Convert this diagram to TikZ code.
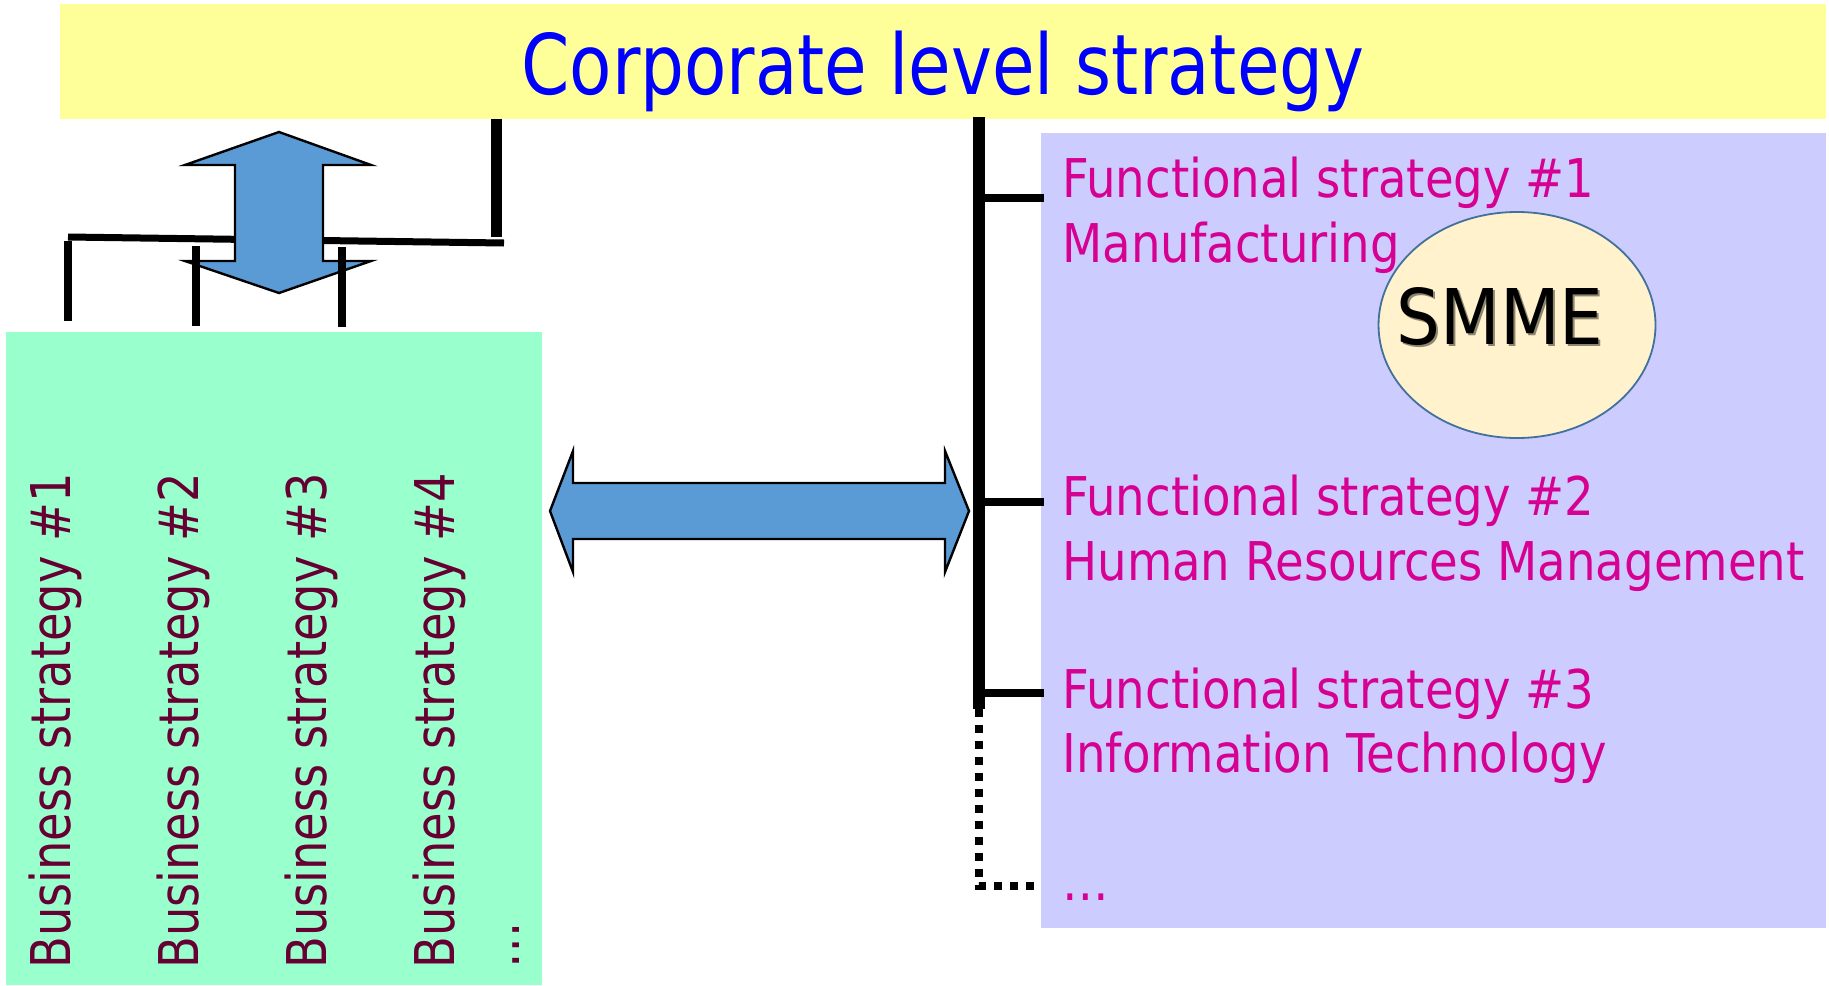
\documentclass[tikz,border=0pt]{standalone}
\usepackage{fontspec}
\setmainfont{DejaVu Sans Condensed}
\newfontfamily\titlefont[FakeStretch=0.92]{DejaVu Sans Condensed}
\newfontfamily\busfont[FakeStretch=0.94]{DejaVu Sans Condensed}
\newfontfamily\funcfont[FakeStretch=0.97]{DejaVu Sans Condensed}
\usepackage{tikz}
\usetikzlibrary{shapes.geometric}

\definecolor{corpyellow}{HTML}{FFFF99}
\definecolor{corpblue}{HTML}{0000FF}
\definecolor{busgreen}{HTML}{99FFCC}
\definecolor{busred}{HTML}{660033}
\definecolor{funcblue}{HTML}{CCCCFF}
\definecolor{funcpink}{RGB}{214,0,147}
\definecolor{arrowblue}{HTML}{5B9BD5}
\definecolor{smmefill}{HTML}{FFF2CC}
\definecolor{smmeline}{HTML}{41719C}

\begin{document}
\begin{tikzpicture}[x=0.5pt, y=-0.5pt,
  bus/.style={rotate=90, anchor=base west, inner sep=0pt, text=busred, font=\busfont\fontsize{27.4}{32}\selectfont},
  func/.style={anchor=base west, inner sep=0pt, text=funcpink, font=\funcfont\fontsize{26.7}{32}\selectfont},
  blockarrow/.style={fill=arrowblue, draw=black, line width=1.2pt, line join=miter}]
\useasboundingbox (0,0) rectangle (1829,985);

% boxes
\fill[corpyellow] (60,4) rectangle (1826,119);
\fill[busgreen] (6,332) rectangle (542,985);
\fill[funcblue] (1041,133) rectangle (1826,928);

\node[anchor=base, inner sep=0pt, text=corpblue, font=\titlefont\fontsize{41.8}{48}\selectfont] (corp) at (943,94) {Corporate level strategy};

% left tree
\draw[line width=5.5pt] (496,119) -- (496,237);
\draw[line width=3.5pt] (68,237) -- (504,243);
\draw[blockarrow] (279,132) -- (185,165) -- (235,165) -- (235,261) -- (185,261) -- (279,293)
  -- (371,261) -- (323,261) -- (323,165) -- (371,165) -- cycle;
\draw[line width=4pt] (68,241) -- (68,321);
\draw[line width=4pt] (196,246) -- (196,326);
\draw[line width=4pt] (342,247) -- (342,327);

\node[bus] (bs1) at (70,969) {Business strategy \#1};
\node[bus] (bs2) at (198,969) {Business strategy \#2};
\node[bus] (bs3) at (326,969) {Business strategy \#3};
\node[bus] (bs4) at (454,969) {Business strategy \#4};
\node[bus] (bsdots) at (519,969) {…};

% between the two sides
\draw[blockarrow] (550,511) -- (573,451) -- (573,483) -- (945,483) -- (945,451) -- (969,511)
  -- (945,572) -- (945,539) -- (573,539) -- (573,572) -- cycle;

% right tree
\coordinate (top) at (979,117);
\coordinate (bottom) at (979,709);
\draw[line width=6pt] (top) -- (bottom);
\draw[line width=4pt] (979,198) -- (1044,198);
\draw[line width=4pt] (979,502) -- (1044,502);
\draw[line width=4pt] (979,693) -- (1044,693);
\draw[line width=4pt, dash pattern=on 4pt off 4pt] (bottom) -- (979,886) -- (1036,886);

\node[func] (f1a) at (1062,197) {Functional strategy \#1};
\node[func] (f1b) at (1062,262) {Manufacturing};
\node[func] (f2a) at (1062,515) {Functional strategy \#2};
\node[func] (f2b) at (1062,580) {Human Resources Management};
\node[func] (f3a) at (1062,708) {Functional strategy \#3};
\node[func] (f3b) at (1062,772) {Information Technology};
\node[func] (fdots) at (1062,900) {…};

% SMME
\node[ellipse, draw=smmeline, fill=smmefill, line width=0.9pt, minimum width=138.5pt, minimum height=113pt, inner sep=0pt] (smme) at (1517,325) {};
\node[anchor=base, inner sep=0pt, text=black!45!smmefill, font=\fontsize{38.4}{44}\selectfont] (smmeshadow) at (1502,346) {SMME};
\node[anchor=base, inner sep=0pt, font=\fontsize{38.4}{44}\selectfont] (smmetext) at (1500,344) {SMME};
\end{tikzpicture}
\end{document}
